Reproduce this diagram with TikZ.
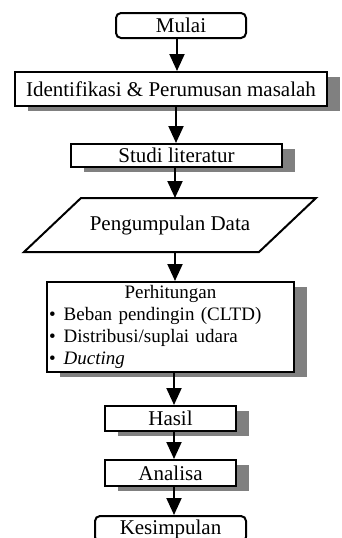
\documentclass[tikz,border=0pt]{standalone}
\usepackage{fontspec}
\setmainfont{Liberation Serif}
\usetikzlibrary{arrows.meta,shadows}

\begin{document}
\begin{tikzpicture}[x=1pt, y=-1pt, line width=2pt, every node/.style={font=\fontsize{21}{24}\selectfont}, >={Triangle[width=15pt,length=17pt]},
	box/.style={draw, fill=white, inner sep=1pt, drop shadow={shadow xshift=13pt, shadow yshift=-5pt, fill=black!50, opacity=1}},
	term/.style={draw, fill=white, rounded corners=5pt, inner sep=1pt}]
	\useasboundingbox (0,0) rectangle (342,538);
	\node[term, minimum width=130pt, minimum height=25pt] (mulai) at (181,25.5) {Mulai};
	\node[box, minimum width=312pt, minimum height=34pt] (ident) at (171,89) {Identifikasi \& Perumusan masalah};
	\node[box, minimum width=211pt, minimum height=23pt] (studi) at (176.5,155.5) {Studi literatur};
	\node[minimum width=233pt, minimum height=52pt, inner sep=1pt] (data) at (170,225) {Pengumpulan Data};
	% jajaran genjang input data
	\draw ([xshift=28.5pt]data.north west) -- ([xshift=28.5pt]data.north east) -- ([xshift=-28.5pt]data.south east) -- ([xshift=-28.5pt]data.south west) -- cycle;
	\node[box, text width=243pt, minimum height=90pt, align=left, inner sep=2pt, font=\fontsize{19}{22}\selectfont] (hitung) at (170.5,327)
		{\makebox[\hsize]{Perhitungan}\\ \textbullet\hspace{8pt}Beban pendingin (CLTD)\\ \textbullet\hspace{8pt}Distribusi/suplai udara\\ \textbullet\hspace{8pt}\textit{Ducting}};
	\node[box, minimum width=131pt, minimum height=25pt] (hasil) at (170.5,418.5) {Hasil};
	\node[box, minimum width=131pt, minimum height=26pt] (analisa) at (170.5,473) {Analisa};
	\node[term, minimum width=151pt, minimum height=26pt] (simpul) at (170.5,529) {Kesimpulan};
	\draw[->] (mulai.south -| 177,0) -- (ident.north -| 177,0);
	\draw[->] (ident.south -| 176,0) -- (studi.north -| 176,0);
	\draw[->] (studi.south -| 175,0) -- (data.north -| 175,0);
	\draw[->] (data.south -| 175,0) -- (hitung.north -| 175,0);
	\draw[->] (hitung.south -| 174,0) -- (hasil.north -| 174,0);
	\draw[->] (hasil.south -| 174,0) -- (analisa.north -| 174,0);
	\draw[->] (analisa.south -| 174,0) -- (simpul.north -| 174,0);
\end{tikzpicture}
\end{document}
